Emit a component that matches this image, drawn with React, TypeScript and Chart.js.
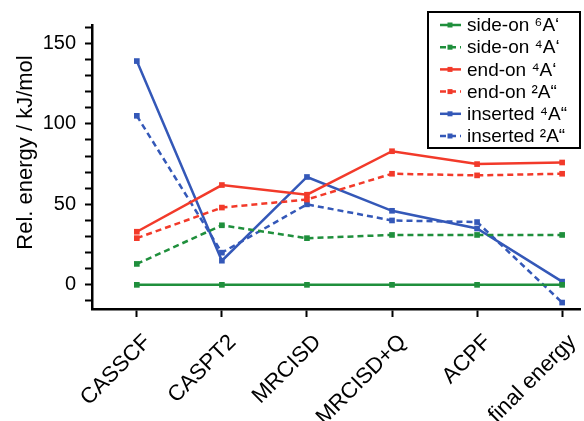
import React, { useEffect, useRef } from "react";
import { Chart, registerables } from "chart.js";

Chart.register(...registerables);

const methods = ["CASSCF", "CASPT2", "MRCISD", "MRCISD+Q", "ACPF", "final energy"];
const sideOn6A = [0, 0, 0, 0, 0, 0];
const sideOn4A = [13, 37, 29, 31, 31, 31];
const endOn4A = [33, 62, 56, 83, 75, 76];
const endOn2A = [29, 48, 53, 69, 68, 69];
const inserted4A = [139, 15, 67, 46, 35, 2];
const inserted2A = [105, 20, 50, 40, 39, -11];
const seriesLabels = ["side-on \u2076A\u2018", "side-on \u2074A\u2018", "end-on \u2074A\u2018", "end-on \u00B2A\u201C", "inserted \u2074A\u201C", "inserted \u00B2A\u201C"];
const yTickLabels = [0, 50, 100, 150];
const yTitle = "Rel. energy / kJ/mol";

const GREEN = "#1f8f3c";
const RED = "#f23a2a";
const BLUE = "#3458b8";
const FONT = "'Liberation Sans', Arial, sans-serif";

const toPts = (arr: number[]) => arr.map((v, i) => ({ x: i, y: v }));

const textPlugin = {
  id: "customText",
  afterDraw(chart: any) {
    const ctx = chart.ctx;
    const xs = chart.scales.x;
    const ca = chart.chartArea;
    ctx.save();
    // x labels
    ctx.fillStyle = "#000";
    ctx.font = `22px ${FONT}`;
    ctx.textAlign = "right";
    ctx.textBaseline = "alphabetic";
    methods.forEach((m, i) => {
      const px = xs.getPixelForValue(i);
      ctx.save();
      ctx.translate(px + 15, ca.bottom + 34);
      ctx.rotate(-Math.PI / 4);
      ctx.fillText(m, 0, 0);
      ctx.restore();
    });
    // y title
    ctx.save();
    ctx.translate(32, 152.5);
    ctx.rotate(-Math.PI / 2);
    ctx.textAlign = "center";
    ctx.textBaseline = "alphabetic";
    ctx.font = `22px ${FONT}`;
    ctx.fillText(yTitle, 0, 0);
    ctx.restore();
    // legend
    const bx = 428, by = 12, bw = 152, bh = 136;
    ctx.fillStyle = "#ffffff";
    ctx.fillRect(bx, by, bw, bh);
    ctx.strokeStyle = "#000";
    ctx.lineWidth = 2;
    ctx.strokeRect(bx, by, bw, bh);
    chart.data.datasets.forEach((ds: any, i: number) => {
      const cy = by + 13 + i * 22.2;
      ctx.strokeStyle = ds.borderColor;
      ctx.lineWidth = 2.5;
      ctx.setLineDash(ds.borderDash || []);
      ctx.beginPath();
      ctx.moveTo(440, cy);
      ctx.lineTo(461, cy);
      ctx.stroke();
      ctx.setLineDash([]);
      ctx.fillStyle = ds.borderColor;
      ctx.fillRect(447.5, cy - 2.5, 5, 5);
      ctx.fillStyle = "#000";
      ctx.font = `19px ${FONT}`;
      ctx.textBaseline = "middle";
      ctx.textAlign = "left";
      ctx.fillText(ds.label, 467, cy + 1);
    });
    ctx.restore();
  },
};

export default function App() {
  const ref = useRef<HTMLCanvasElement>(null);
  useEffect(() => {
    if (!ref.current) return;
    const mk = (label: string, data: number[], color: string, dash: number[]) => ({
      label,
      data: toPts(data),
      borderColor: color,
      backgroundColor: color,
      borderWidth: 2.5,
      borderDash: dash,
      pointStyle: "rect",
      pointRadius: 4,
      pointHoverRadius: 4,
      pointBorderWidth: 0,
      tension: 0,
    });
    const chart = new Chart(ref.current, {
      type: "line",
      data: {
        datasets: [
          mk(seriesLabels[0], sideOn6A, GREEN, []),
          mk(seriesLabels[1], sideOn4A, GREEN, [6, 4]),
          mk(seriesLabels[2], endOn4A, RED, []),
          mk(seriesLabels[3], endOn2A, RED, [6, 4]),
          mk(seriesLabels[4], inserted4A, BLUE, []),
          mk(seriesLabels[5], inserted2A, BLUE, [6, 4]),
        ] as any,
      },
      options: {
        animation: false,
        responsive: false,
        maintainAspectRatio: false,
        layout: { padding: { top: 25, right: 2, left: 0, bottom: 0 } },
        plugins: { legend: { display: false }, tooltip: { enabled: false } },
        scales: {
          x: {
            type: "linear",
            min: -0.527,
            max: 5.21,
            afterBuildTicks: (s: any) => {
              s.ticks = methods.map((_, i) => ({ value: i }));
            },
            afterFit: (s: any) => {
              s.height = 112;
            },
            ticks: {
              callback: () => "",
              maxRotation: 0,
              autoSkip: false,
            },
            grid: { drawOnChartArea: false, drawTicks: true, tickLength: 8, tickWidth: 2, tickColor: "#000" },
            border: { color: "#000", width: 2.5 },
          },
          y: {
            min: -15,
            max: 161.4,
            ticks: {
              stepSize: 10,
              includeBounds: false,
              autoSkip: false,
              callback: (v: any) => (yTickLabels.includes(v) ? String(v) : ""),
              color: "#000",
              font: { family: FONT, size: 20 },
              padding: 9,
            },
            afterFit: (s: any) => {
              s.width = 92;
            },
            grid: { drawOnChartArea: false, drawTicks: true, tickLength: 7, tickWidth: 2, tickColor: "#000" },
            border: { color: "#000", width: 2.5 },
          },
        },
      },
      plugins: [textPlugin],
    });
    return () => chart.destroy();
  }, []);
  return (
    <div style={{ position: "fixed", left: 0, top: 0, width: 584, height: 421, background: "#fff" }}>
      <canvas ref={ref} width={584} height={421} style={{ width: 584, height: 421 }} />
    </div>
  );
}
